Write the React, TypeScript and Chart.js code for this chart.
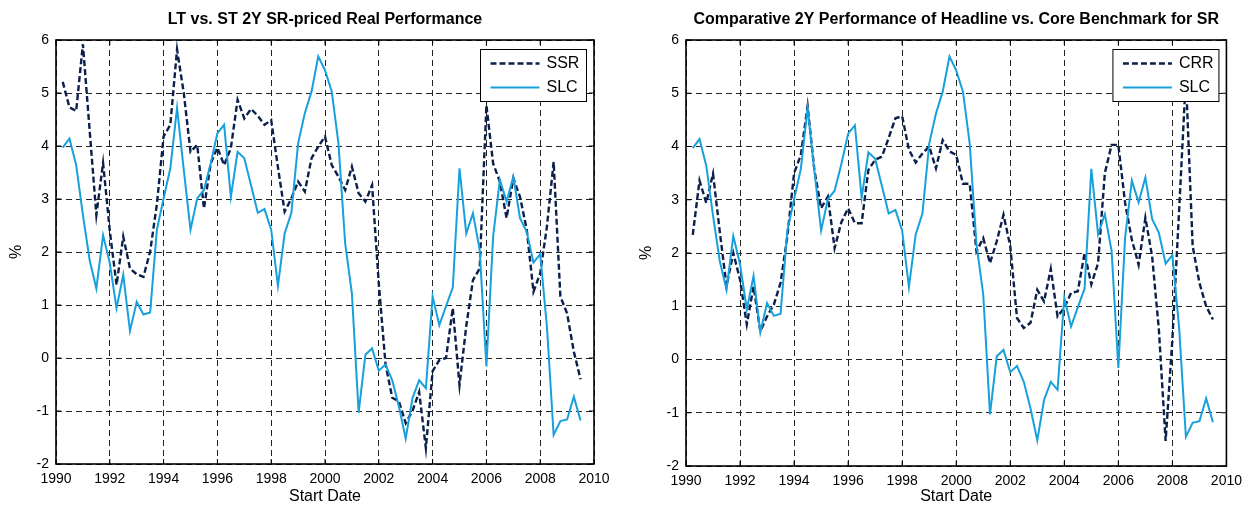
import React, { useEffect, useRef } from "react";
import { Chart, registerables } from "chart.js";

Chart.register(...registerables);

const FONT = "'Liberation Sans', Arial, Helvetica, sans-serif";

// Quarterly start dates
const startDates = [
  1990.25, 1990.5, 1990.75, 1991.0, 1991.25, 1991.5, 1991.75, 1992.0,
  1992.25, 1992.5, 1992.75, 1993.0, 1993.25, 1993.5, 1993.75, 1994.0,
  1994.25, 1994.5, 1994.75, 1995.0, 1995.25, 1995.5, 1995.75, 1996.0,
  1996.25, 1996.5, 1996.75, 1997.0, 1997.25, 1997.5, 1997.75, 1998.0,
  1998.25, 1998.5, 1998.75, 1999.0, 1999.25, 1999.5, 1999.75, 2000.0,
  2000.25, 2000.5, 2000.75, 2001.0, 2001.25, 2001.5, 2001.75, 2002.0,
  2002.25, 2002.5, 2002.75, 2003.0, 2003.25, 2003.5, 2003.75, 2004.0,
  2004.25, 2004.5, 2004.75, 2005.0, 2005.25, 2005.5, 2005.75, 2006.0,
  2006.25, 2006.5, 2006.75, 2007.0, 2007.25, 2007.5, 2007.75, 2008.0,
  2008.25, 2008.5, 2008.75, 2009.0, 2009.25, 2009.5,
];

const ssr = [
  5.21, 4.73, 4.66, 5.92, 4.3, 2.7, 3.68, 2.4,
  1.38, 2.29, 1.69, 1.58, 1.53, 2.01, 2.9, 4.18,
  4.4, 5.82, 5.0, 3.89, 4.02, 2.82, 3.67, 3.97,
  3.64, 3.96, 4.87, 4.52, 4.7, 4.57, 4.4, 4.49,
  3.6, 2.76, 3.01, 3.33, 3.14, 3.77, 3.99, 4.18,
  3.64, 3.42, 3.17, 3.61, 3.11, 2.95, 3.26, 1.4,
  -0.12, -0.75, -0.82, -1.23, -1.0, -0.64, -1.7, -0.25,
  -0.04, 0.0, 0.94, -0.51, 0.6, 1.47, 1.69, 4.77,
  3.67, 3.33, 2.64, 3.39, 3.04, 2.42, 1.25, 1.6,
  2.48, 3.7, 1.16, 0.84, 0.12, -0.4,
];

const crr = [
  2.34, 3.36, 2.94, 3.49, 2.4, 1.38, 2.0, 1.5,
  0.66, 1.37, 0.53, 0.81, 1.03, 1.44, 2.31, 3.5,
  3.84, 4.76, 3.56, 2.84, 3.06, 2.09, 2.58, 2.84,
  2.56, 2.56, 3.56, 3.75, 3.81, 4.16, 4.53, 4.57,
  3.94, 3.7, 3.87, 4.0, 3.59, 4.12, 3.91, 3.84,
  3.3, 3.3, 2.03, 2.28, 1.81, 2.22, 2.72, 2.13,
  0.78, 0.59, 0.69, 1.31, 1.09, 1.7, 0.81, 0.97,
  1.25, 1.28, 2.0, 1.41, 1.81, 3.5, 4.03, 4.03,
  2.94, 2.25, 1.78, 2.66, 1.94, 0.56, -1.53, 0.38,
  2.81, 5.3, 2.13, 1.44, 1.0, 0.75,
];

const slc = [
  3.97, 4.14, 3.64, 2.7, 1.85, 1.31, 2.32, 1.79,
  0.94, 1.57, 0.51, 1.06, 0.82, 0.86, 2.42, 3.01,
  3.58, 4.72, 3.55, 2.42, 3.01, 3.17, 3.67, 4.24,
  4.4, 3.04, 3.89, 3.77, 3.26, 2.74, 2.81, 2.42,
  1.36, 2.35, 2.74, 4.05, 4.62, 5.03, 5.69, 5.43,
  5.03, 4.05, 2.16, 1.22, -1.03, 0.06, 0.18, -0.24,
  -0.12, -0.42, -0.92, -1.52, -0.76, -0.42, -0.57, 1.16,
  0.62, 0.98, 1.33, 3.58, 2.35, 2.73, 2.04, -0.16,
  2.29, 3.36, 2.95, 3.42, 2.64, 2.38, 1.8, 1.96,
  0.59, -1.45, -1.19, -1.16, -0.73, -1.18,
];

const xMin = 1990;
const xMax = 2010;
const xStep = 2;
const yMin = -2;
const yMax = 6;
const yStep = 1;

const DARK = "#0b1f4b";
const LIGHT = "#18a0dc";

const boxPlugin = {
  id: "matlabBox",
  afterDatasetsDraw(chart: any) {
    const { ctx, chartArea } = chart;
    const { left, top, right, bottom } = chartArea;
    ctx.save();
    ctx.strokeStyle = "#000";
    ctx.lineWidth = 1;
    ctx.setLineDash([]);
    const tl = 5;
    ctx.beginPath();
    chart.scales.x.ticks.forEach((t: any) => {
      const px = chart.scales.x.getPixelForValue(t.value);
      ctx.moveTo(px, bottom);
      ctx.lineTo(px, bottom - tl);
      ctx.moveTo(px, top);
      ctx.lineTo(px, top + tl);
    });
    chart.scales.y.ticks.forEach((t: any) => {
      const py = chart.scales.y.getPixelForValue(t.value);
      ctx.moveTo(left, py);
      ctx.lineTo(left + tl, py);
      ctx.moveTo(right, py);
      ctx.lineTo(right - tl, py);
    });
    ctx.stroke();
    ctx.lineWidth = 1.6;
    ctx.strokeRect(left, top, right - left, bottom - top);
    ctx.restore();
  },
};

const legendPlugin = {
  id: "insideLegend",
  afterDraw(chart: any) {
    const { ctx, chartArea } = chart;
    const w = 106;
    const h = 52;
    const x0 = chartArea.right - 7.5 - w;
    const y0 = chartArea.top + 9.5;
    ctx.save();
    ctx.fillStyle = "#fff";
    ctx.fillRect(x0, y0, w, h);
    ctx.strokeStyle = "#000";
    ctx.lineWidth = 1;
    ctx.setLineDash([]);
    ctx.strokeRect(x0, y0, w, h);
    chart.data.datasets.forEach((ds: any, k: number) => {
      const y = y0 + 14 + k * 24;
      ctx.beginPath();
      ctx.setLineDash(ds.borderDash || []);
      ctx.strokeStyle = ds.borderColor;
      ctx.lineWidth = ds.borderWidth;
      ctx.moveTo(x0 + 10, y);
      ctx.lineTo(x0 + 59, y);
      ctx.stroke();
      ctx.setLineDash([]);
      ctx.fillStyle = "#000";
      ctx.font = `16px ${FONT}`;
      ctx.textBaseline = "middle";
      ctx.textAlign = "left";
      ctx.fillText(ds.label, x0 + 66, y + 0.5);
    });
    ctx.restore();
  },
};

function makeConfig(
  title: string,
  dashedLabel: string,
  dashedValues: number[],
  yAxisWidth: number,
  rightPad: number,
  xAxisHeight: number,
  yTitlePad: number
): any {
  const pts = (vals: number[]) => startDates.map((d, i) => ({ x: d, y: vals[i] }));
  return {
    type: "line",
    data: {
      datasets: [
        {
          label: dashedLabel,
          data: pts(dashedValues),
          borderColor: DARK,
          backgroundColor: DARK,
          borderWidth: 2.4,
          borderDash: [6, 3],
          pointRadius: 0,
          tension: 0,
          order: 1,
        },
        {
          label: "SLC",
          data: pts(slc),
          borderColor: LIGHT,
          backgroundColor: LIGHT,
          borderWidth: 2,
          pointRadius: 0,
          tension: 0,
          order: 0,
        },
      ],
    },
    options: {
      animation: false,
      responsive: false,
      maintainAspectRatio: false,
      devicePixelRatio: 1,
      layout: { padding: { left: 0, right: rightPad, top: 0, bottom: 0 } },
      plugins: {
        legend: { display: false },
        tooltip: { enabled: false },
        title: {
          display: true,
          text: title,
          fullSize: false,
          color: "#000",
          font: { family: FONT, size: 16, weight: "bold", lineHeight: 1.2 },
          padding: { top: 9.6, bottom: 11.2 },
        },
      },
      scales: {
        x: {
          type: "linear",
          min: xMin,
          max: xMax,
          afterFit(s: any) {
            s.height = xAxisHeight;
          },
          ticks: {
            stepSize: xStep,
            color: "#000",
            padding: 7,
            maxRotation: 0,
            font: { family: FONT, size: 14 },
            callback: (v: any) => String(v),
          },
          grid: {
            color: "#222",
            lineWidth: 1,
            drawTicks: false,
          },
          border: { display: false, dash: [6, 4] },
          title: {
            display: true,
            text: "Start Date",
            color: "#000",
            font: { family: FONT, size: 16, lineHeight: 1.2 },
            padding: { top: 0, bottom: 2.4 },
          },
        },
        y: {
          type: "linear",
          min: yMin,
          max: yMax,
          afterFit(s: any) {
            s.width = yAxisWidth;
          },
          ticks: {
            stepSize: yStep,
            color: "#000",
            padding: 7,
            font: { family: FONT, size: 14 },
          },
          grid: {
            color: "#222",
            lineWidth: 1,
            drawTicks: false,
          },
          border: { display: false, dash: [6, 4] },
          title: {
            display: true,
            text: "%",
            color: "#000",
            font: { family: FONT, size: 16, lineHeight: 1.2 },
            padding: { top: yTitlePad, bottom: 0 },
          },
        },
      },
    },
    plugins: [boxPlugin, legendPlugin],
  };
}

function ChartPanel(props: { config: any; left: number; width: number; height: number }) {
  const ref = useRef<HTMLCanvasElement | null>(null);
  useEffect(() => {
    if (!ref.current) return;
    const chart = new Chart(ref.current, props.config);
    return () => chart.destroy();
  }, []);
  return (
    <canvas
      ref={ref}
      width={props.width}
      height={props.height}
      style={{
        position: "absolute",
        left: props.left,
        top: 0,
        width: props.width,
        height: props.height,
      }}
    />
  );
}

export default function App() {
  const leftCfg = makeConfig(
    "LT vs. ST 2Y SR-priced Real Performance",
    "SSR",
    ssr,
    56,
    30,
    45,
    7.4
  );
  const rightCfg = makeConfig(
    "Comparative 2Y Performance of Headline vs. Core Benchmark for SR",
    "CRR",
    crr,
    62,
    21,
    43,
    13.4
  );
  return (
    <div
      style={{
        position: "absolute",
        left: 0,
        top: 0,
        width: 1249,
        height: 509,
        background: "#fff",
        overflow: "hidden",
      }}
    >
      <ChartPanel config={leftCfg} left={0} width={624} height={509} />
      <ChartPanel config={rightCfg} left={624} width={625} height={509} />
    </div>
  );
}
